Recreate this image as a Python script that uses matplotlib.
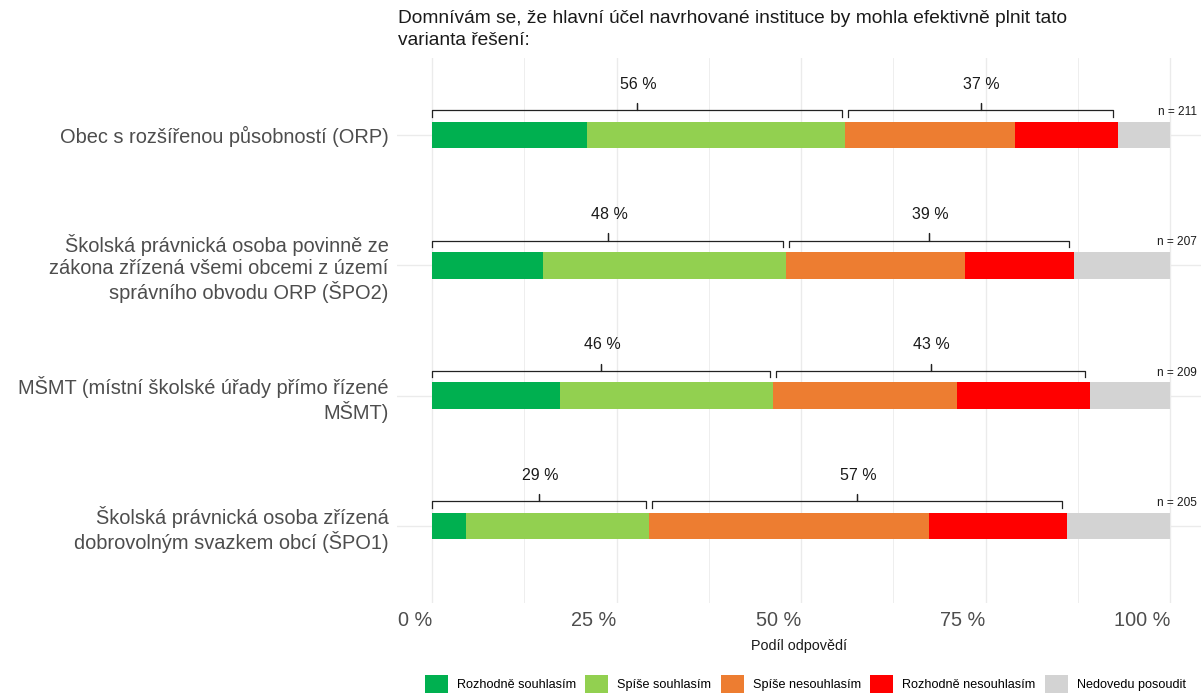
import matplotlib
matplotlib.use("Agg")
import matplotlib.pyplot as plt
from matplotlib.patches import Patch
import numpy as np

plt.rcParams['font.family'] = ['Liberation Sans', 'DejaVu Sans']

categories = [
    "Obec s rozšířenou působností (ORP)",
    "Školská právnická osoba povinně ze\nzákona zřízená všemi obcemi z území\nsprávního obvodu ORP (ŠPO2)",
    "MŠMT (místní školské úřady přímo řízené\nMŠMT)",
    "Školská právnická osoba zřízená\ndobrovolným svazkem obcí (ŠPO1)",
]
series_names = ["Rozhodně souhlasím", "Spíše souhlasím", "Spíše nesouhlasím",
                "Rozhodně nesouhlasím", "Nedovedu posoudit"]
rozhodne_souhlasim = [21.0, 15.0, 17.3, 4.6]
spise_souhlasim = [35.0, 33.0, 28.9, 24.8]
spise_nesouhlasim = [23.0, 24.2, 25.0, 37.9]
rozhodne_nesouhlasim = [14.0, 14.8, 18.0, 18.8]
nedovedu_posoudit = [7.0, 13.0, 10.8, 13.9]
n_counts = [211, 207, 209, 205]
colors = ["#00B050", "#92D050", "#ED7D31", "#FF0000", "#D3D3D3"]
xticks = [0, 25, 50, 75, 100]
xtick_labels = ["0 %", "25 %", "50 %", "75 %", "100 %"]

W, H = 1201, 693
fig = plt.figure(figsize=(W / 100, H / 100), dpi=100)
px_left, px_right, px_top, px_bottom = 397, 1201, 58, 603
ax = fig.add_axes([px_left / W, 1 - px_bottom / H, (px_right - px_left) / W, (px_bottom - px_top) / H])

x0_px, x100_px = 432, 1170
scale = (x100_px - x0_px) / 100.0
ax.set_xlim(-(x0_px - px_left) / scale, (px_right - x0_px) / scale)
ax.set_ylim(0.41, 4.59)

ypos = np.array([4, 3, 2, 1])
series = [rozhodne_souhlasim, spise_souhlasim, spise_nesouhlasim,
          rozhodne_nesouhlasim, nedovedu_posoudit]

# grid
for v in np.arange(0, 101, 12.5):
    lw = 1.0 if v % 25 == 0 else 0.6
    ax.axvline(v, color="#EBEBEB", lw=lw, zorder=0)
for y in ypos:
    ax.axhline(y, color="#EBEBEB", lw=1.0, zorder=0)

left = np.zeros(4)
for vals, c in zip(series, colors):
    ax.barh(ypos, vals, left=left, height=0.205, color=c, zorder=2, lw=0)
    left = left + np.array(vals)

def bracket(x1, x2, y):
    yl = y + 0.19
    ye = y + 0.14
    yt = y + 0.245
    xm = (x1 + x2) / 2
    ax.plot([x1, x1, xm, xm, xm, x2, x2], [ye, yl, yl, yt, yl, yl, ye],
            color="#222222", lw=0.9, zorder=3, solid_joinstyle="round")

agree = np.array(rozhodne_souhlasim) + np.array(spise_souhlasim)
disagree = np.array(spise_nesouhlasim) + np.array(rozhodne_nesouhlasim)
for i, y in enumerate(ypos):
    a, d = agree[i], disagree[i]
    bracket(0, a - 0.4, y)
    bracket(a + 0.4, a + d - 0.7, y)
    ax.text(a / 2, y + 0.39, f"{round(a)} %", ha="center", va="center",
            fontsize=11.5, color="#1a1a1a")
    ax.text(a + d / 2, y + 0.39, f"{round(d)} %", ha="center", va="center",
            fontsize=11.5, color="#1a1a1a")
    ax.text(103.6, y + 0.175, f"n = {n_counts[i]}", ha="right", va="center",
            fontsize=8.6, color="#1a1a1a", clip_on=False)

ax.set_yticks(ypos)
ax.set_yticklabels(categories, fontsize=14.4, color="#4D4D4D", ha="right",
                   linespacing=1.18)
ax.set_xticks(xticks)
ax.set_xticklabels(xtick_labels, fontsize=14.3, color="#4D4D4D", ha="right")
ax.tick_params(axis="both", length=0)
ax.tick_params(axis="y", pad=6)
ax.tick_params(axis="x", pad=6)
for s in ax.spines.values():
    s.set_visible(False)
ax.set_xlabel("Podíl odpovědí", fontsize=10.4, color="#1a1a1a", labelpad=6)

fig.text(398 / W, 1 - 10 / H,
         "Domnívám se, že hlavní účel navrhované instituce by mohla efektivně plnit tato\nvarianta řešení:",
         ha="left", va="top", fontsize=13.8, color="#1a1a1a", linespacing=1.38)

handles = [Patch(facecolor=c, edgecolor="none", label=n) for c, n in zip(colors, series_names)]
fig.legend(handles=handles, loc="center", bbox_to_anchor=(805.5 / W, 1 - 684 / H),
           ncol=5, frameon=False, fontsize=9.1, handlelength=1.82, handleheight=1.82,
           handletextpad=0.71, columnspacing=0.75, borderpad=0, borderaxespad=0)

fig.savefig("out.png", dpi=100)
